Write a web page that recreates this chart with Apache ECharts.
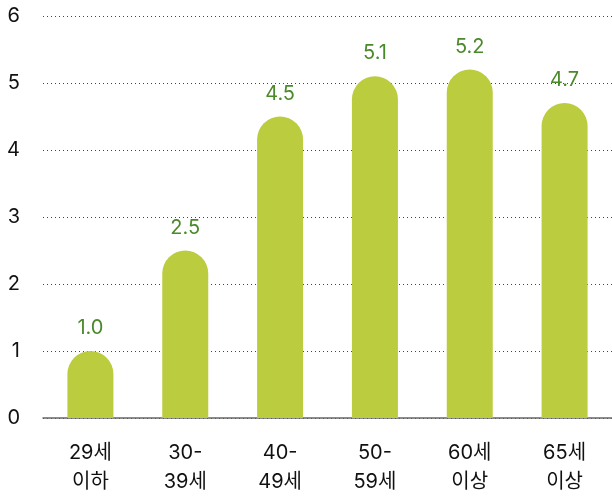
<!DOCTYPE html>
<html><head><meta charset="utf-8">
<script src="https://cdn.jsdelivr.net/npm/echarts@6/dist/echarts.min.js"></script>
<style>html,body{margin:0;padding:0;background:#fff}#c{width:612px;height:498px}</style>
</head><body><div id="c"></div>
<script>
var categories = ['29세\n이하', '30-\n39세', '40-\n49세', '50-\n59세', '60세\n이상', '65세\n이상'];
var values = [1.0, 2.5, 4.5, 5.1, 5.2, 4.7];
var yTicks = [0, 1, 2, 3, 4, 5, 6];
var chart = echarts.init(document.getElementById('c'));
var font = 'Inter, "Noto Sans CJK KR", sans-serif';
chart.setOption({
  animation: false,
  grid: {left: 43, right: 0, top: 16, bottom: 80},
  xAxis: {
    type: 'category', data: categories,
    axisLine: {lineStyle: {color: '#666', width: 1.5}},
    axisTick: {show: false},
    axisLabel: {color: '#111', fontSize: 20, fontFamily: font, lineHeight: 29, margin: 20}
  },
  yAxis: {
    type: 'value', min: yTicks[0], max: yTicks[yTicks.length - 1], interval: 1,
    axisLine: {show: false}, axisTick: {show: false},
    axisLabel: {color: '#111', fontSize: 20, fontFamily: font, margin: 23},
    splitLine: {lineStyle: {type: [1, 3], color: '#444', width: 1}}
  },
  series: [{
    type: 'bar', data: values, barWidth: 46,
    itemStyle: {color: '#bccc3f', borderRadius: [23, 23, 0, 0]},
    label: {show: true, position: 'top', distance: 13, color: '#4a8a2a', fontSize: 20, fontFamily: font,
      formatter: function (p) { return p.value.toFixed(1); }}
  }]
});
</script></body></html>
